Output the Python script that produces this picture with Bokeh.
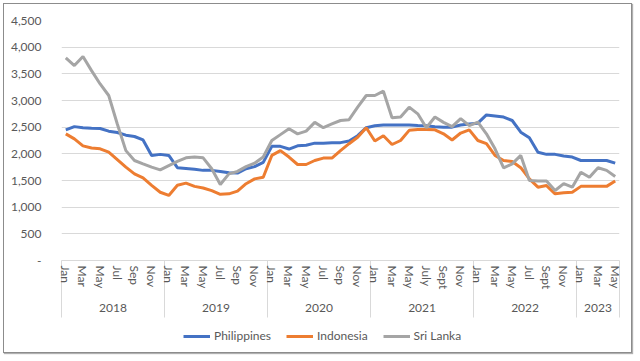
from bokeh.plotting import figure
from bokeh.layouts import column
from bokeh.models import (Range1d, FixedTicker, LinearAxis, Legend, LegendItem,
                          NumeralTickFormatter, ColumnDataSource)
from bokeh.embed import file_html
from bokeh.resources import INLINE

# ---------------- data ----------------
years = ["2018", "2019", "2020", "2021", "2022", "2023"]
months_per_year = [12, 12, 12, 12, 12, 5]
tick_labels = ["Jan", "Mar", "May", "Jul", "Sep", "Nov",
               "Jan", "Mar", "May", "Jul", "Sep", "Nov",
               "Jan", "Mar", "May", "Jul", "Sep", "Nov",
               "Jan", "Mar", "May", "July", "Sept", "Nov",
               "Jan", "Mar", "May", "Jul", "Sept", "Nov",
               "Jan", "Mar", "May"]

philippines = [2450, 2510, 2490, 2480, 2475, 2425, 2400, 2350, 2325, 2260, 1970, 1990,
               1970, 1740, 1725, 1710, 1690, 1690, 1670, 1645, 1640, 1720, 1760, 1840,
               2140, 2140, 2090, 2150, 2160, 2200, 2200, 2210, 2210, 2240, 2340, 2490,
               2525, 2540, 2540, 2540, 2540, 2530, 2525, 2510, 2500, 2500, 2540, 2560,
               2575, 2730, 2710, 2690, 2625, 2405, 2300, 2030, 1990, 1990, 1960, 1940,
               1875, 1875, 1875, 1875, 1825]
indonesia = [2375, 2280, 2150, 2110, 2095, 2030, 1890, 1750, 1625, 1550, 1410, 1280,
             1220, 1410, 1450, 1390, 1360, 1310, 1240, 1250, 1300, 1440, 1530, 1560,
             1970, 2060, 1940, 1800, 1800, 1875, 1920, 1920, 2060, 2190, 2310, 2490,
             2240, 2340, 2175, 2250, 2440, 2455, 2455, 2450, 2375, 2260, 2390, 2450,
             2250, 2190, 1970, 1875, 1855, 1740, 1530, 1375, 1405, 1250, 1270, 1280,
             1390, 1390, 1390, 1390, 1490]
sri_lanka = [3800, 3656, 3825, 3560, 3310, 3094, 2560, 2060, 1875, 1812, 1750, 1700,
             1780, 1860, 1925, 1940, 1925, 1720, 1425, 1625, 1670, 1760, 1825, 1940,
             2250, 2360, 2470, 2375, 2425, 2590, 2490, 2560, 2625, 2640, 2875, 3094,
             3094, 3175, 2675, 2690, 2875, 2750, 2490, 2690, 2590, 2510, 2660, 2530,
             2594, 2375, 2094, 1738, 1812, 1970, 1500, 1490, 1490, 1312, 1440, 1375,
             1656, 1560, 1740, 1690, 1575]
series_names = ["Philippines", "Indonesia", "Sri Lanka"]
series_colors = ["#4472c4", "#ed7d31", "#a5a5a5"]

n = len(philippines)
month_idx = list(range(n))

FONT = "Lato"
FS = "12px"
TXT = "#595959"
GRID = "#d9d9d9"
W = 627

src = ColumnDataSource(dict(x=month_idx, ph=philippines, idn=indonesia, sl=sri_lanka))
cols = ["ph", "idn", "sl"]

p = figure(width=W, height=318,
           x_range=Range1d(-0.5, n - 0.5), y_range=Range1d(0, 4500),
           output_backend="svg", toolbar_location=None,
           min_border_left=57, min_border_right=12, min_border_top=16,
           min_border_bottom=62, x_axis_type=None)
p.outline_line_color = None
p.background_fill_color = "white"
p.border_fill_color = "white"

for c, col in zip(cols, series_colors):
    p.line("x", c, source=src, line_color=col, line_width=3)

# y axis
ya = p.yaxis[0]
ya.ticker = FixedTicker(ticks=list(range(0, 4501, 500)))
ya.formatter = NumeralTickFormatter(format="0,0")
ya.major_label_overrides = {0: "-"}
ya.axis_line_color = None
ya.major_tick_line_color = None
ya.minor_tick_line_color = None
ya.major_label_text_font = FONT
ya.major_label_text_font_size = FS
ya.major_label_text_color = TXT
ya.major_label_standoff = 14
p.ygrid.grid_line_color = GRID
p.ygrid.grid_line_width = 1

# month axis (every second month labelled, year separators as minor ticks)
starts = []
acc = 0
for m in months_per_year:
    starts.append(acc)
    acc += m
month_ticks = list(range(0, n, 2))
boundaries = [s - 0.5 for s in starts] + [n - 0.5]
xa = LinearAxis(ticker=FixedTicker(ticks=month_ticks, minor_ticks=boundaries))
xa.major_label_overrides = {t: lab for t, lab in zip(month_ticks, tick_labels)}
xa.major_label_orientation = "vertical"
xa.major_label_text_font = FONT
xa.major_label_text_font_size = FS
xa.major_label_text_color = TXT
xa.major_label_standoff = -52
xa.major_tick_line_color = None
xa.major_tick_out = 0
xa.major_tick_in = 0
xa.minor_tick_line_color = GRID
xa.minor_tick_out = 57
xa.minor_tick_in = 0
xa.axis_line_color = GRID
p.add_layout(xa, "below")

# year axis
centers = [s - 0.5 + m / 2 for s, m in zip(starts, months_per_year)]
ya2 = LinearAxis(ticker=FixedTicker(ticks=centers, minor_ticks=[]))
ya2.major_label_overrides = {c: y for c, y in zip(centers, years)}
ya2.major_label_text_font = FONT
ya2.major_label_text_font_size = FS
ya2.major_label_text_color = TXT
ya2.major_label_standoff = 11
ya2.major_tick_line_color = None
ya2.major_tick_out = 0
ya2.major_tick_in = 0
ya2.minor_tick_line_color = None
ya2.minor_tick_out = 0
ya2.axis_line_color = None
p.add_layout(ya2, "below")

# legend strip (separate figure below the chart)
lg = figure(width=W, height=30, x_range=Range1d(0, 1), y_range=Range1d(0, 1),
            output_backend="svg", toolbar_location=None,
            min_border_left=0, min_border_right=0, min_border_top=0,
            min_border_bottom=0, x_axis_type=None, y_axis_type=None)
lg.outline_line_color = None
lg.grid.visible = False
lg.background_fill_color = "white"
lg.border_fill_color = "white"
items = []
for name, c, col in zip(series_names, cols, series_colors):
    r = lg.line("x", c, source=src, line_color=col, line_width=3)
    items.append(LegendItem(label=name, renderers=[r]))
legend = Legend(items=items, orientation="horizontal", location=(122, 9))
legend.label_text_font = FONT
legend.label_text_font_size = FS
legend.label_text_color = TXT
legend.glyph_width = 27
legend.glyph_height = 14
legend.label_standoff = 4
legend.spacing = 15
legend.padding = 2
legend.margin = 0
legend.border_line_color = None
legend.background_fill_alpha = 0
lg.add_layout(legend, "center")

layout = column(p, lg, spacing=0)
layout.styles = {"border": "1px solid #8c8c8c", "box-shadow": "1px 1px 1px #b0b0b0",
                 "margin-left": "3px", "margin-top": "3px"}

open("out.html", "w").write(file_html(layout, INLINE))
